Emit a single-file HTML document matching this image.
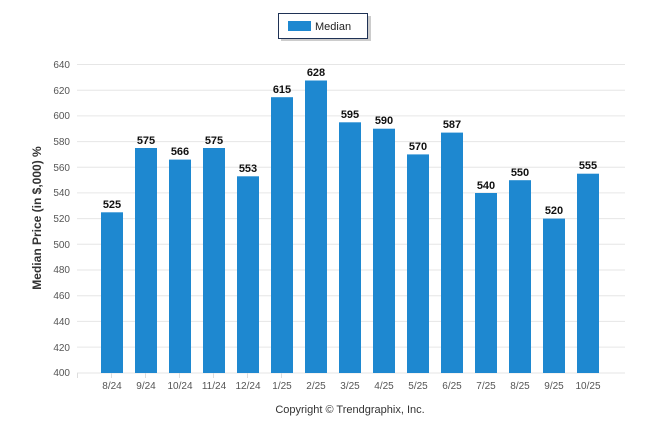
<!DOCTYPE html>
<html><head><style>body{margin:0;background:#fff}svg{display:block}</style></head><body>
<svg width="646" height="434" xmlns="http://www.w3.org/2000/svg" font-family="Liberation Sans, sans-serif">
<rect width="646" height="434" fill="#fff"/>
<rect x="281" y="16" width="90" height="25" fill="#999" opacity="0.5"/>
<rect x="278.5" y="13.5" width="89" height="25" fill="#fff" stroke="#1f3255" stroke-width="1"/>
<rect x="288" y="21" width="23" height="10" fill="#1e88d0"/>
<text x="315" y="30" font-size="11" fill="#222">Median</text>
<g stroke="#e6e6e6" stroke-width="1">
<line x1="77" x2="625" y1="64.5" y2="64.5"/><line x1="77" x2="625" y1="90.2" y2="90.2"/><line x1="77" x2="625" y1="115.9" y2="115.9"/><line x1="77" x2="625" y1="141.6" y2="141.6"/><line x1="77" x2="625" y1="167.2" y2="167.2"/><line x1="77" x2="625" y1="192.9" y2="192.9"/><line x1="77" x2="625" y1="218.6" y2="218.6"/><line x1="77" x2="625" y1="244.3" y2="244.3"/><line x1="77" x2="625" y1="270" y2="270"/><line x1="77" x2="625" y1="295.7" y2="295.7"/><line x1="77" x2="625" y1="321.4" y2="321.4"/><line x1="77" x2="625" y1="347.1" y2="347.1"/><line x1="77" x2="625" y1="373" y2="373"/>
</g>
<g font-size="10" fill="#555" text-anchor="end">
<text x="70" y="68">640</text><text x="70" y="94">620</text><text x="70" y="119">600</text><text x="70" y="145">580</text><text x="70" y="171">560</text><text x="70" y="196">540</text><text x="70" y="222">520</text><text x="70" y="248">500</text><text x="70" y="273">480</text><text x="70" y="299">460</text><text x="70" y="325">440</text><text x="70" y="351">420</text><text x="70" y="376">400</text>
</g>
<text transform="translate(41,218) rotate(-90)" font-size="12" font-weight="bold" fill="#333" text-anchor="middle">Median Price (in $,000) %</text>
<g id="bars"></g>
<text x="350" y="413" font-size="11" fill="#333" text-anchor="middle">Copyright © Trendgraphix, Inc.</text>
<g fill="#1e88d0">
<rect x="101" y="212.3" width="22" height="160.7"/>
<rect x="135" y="148.0" width="22" height="225"/>
<rect x="169" y="159.6" width="22" height="213.4"/>
<rect x="203" y="148.0" width="22" height="225"/>
<rect x="237" y="176.3" width="22" height="196.7"/>
<rect x="271" y="97.2" width="22" height="275.8"/>
<rect x="305" y="80.5" width="22" height="292.5"/>
<rect x="339" y="122.3" width="22" height="250.7"/>
<rect x="373" y="128.7" width="22" height="244.3"/>
<rect x="407" y="154.4" width="22" height="218.6"/>
<rect x="441" y="132.6" width="22" height="240.4"/>
<rect x="475" y="193.0" width="22" height="180"/>
<rect x="509" y="180.2" width="22" height="192.8"/>
<rect x="543" y="218.6" width="22" height="154.4"/>
<rect x="577" y="173.7" width="22" height="199.3"/>
</g>
<g font-size="11" font-weight="bold" fill="#111" text-anchor="middle">
<text x="112" y="208">525</text><text x="146" y="144">575</text><text x="180" y="155">566</text><text x="214" y="144">575</text><text x="248" y="172">553</text><text x="282" y="93">615</text><text x="316" y="76">628</text><text x="350" y="118">595</text><text x="384" y="124">590</text><text x="418" y="150">570</text><text x="452" y="128">587</text><text x="486" y="189">540</text><text x="520" y="176">550</text><text x="554" y="214">520</text><text x="588" y="169">555</text>
</g>
<g stroke="#ddd"><line x1="77.5" x2="77.5" y1="373" y2="378"/><line x1="111.5" x2="111.5" y1="373" y2="378"/><line x1="145.5" x2="145.5" y1="373" y2="378"/><line x1="179.5" x2="179.5" y1="373" y2="378"/><line x1="213.5" x2="213.5" y1="373" y2="378"/><line x1="247.5" x2="247.5" y1="373" y2="378"/><line x1="281.5" x2="281.5" y1="373" y2="378"/></g>
<g font-size="10" fill="#555" text-anchor="middle">
<text x="112" y="389">8/24</text><text x="146" y="389">9/24</text><text x="180" y="389">10/24</text><text x="214" y="389">11/24</text><text x="248" y="389">12/24</text><text x="282" y="389">1/25</text><text x="316" y="389">2/25</text><text x="350" y="389">3/25</text><text x="384" y="389">4/25</text><text x="418" y="389">5/25</text><text x="452" y="389">6/25</text><text x="486" y="389">7/25</text><text x="520" y="389">8/25</text><text x="554" y="389">9/25</text><text x="588" y="389">10/25</text>
</g>
</svg>
</body></html>
